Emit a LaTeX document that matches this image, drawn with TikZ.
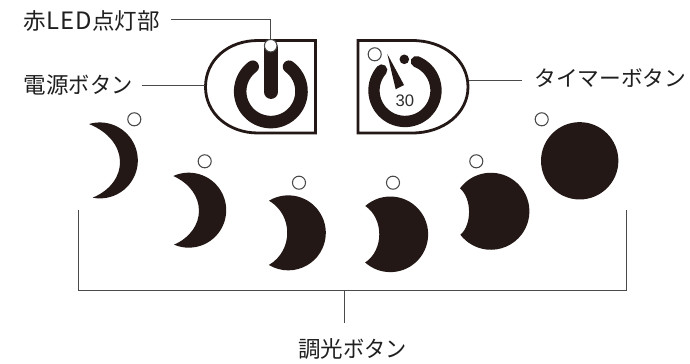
\documentclass[tikz,border=0pt]{standalone}
\usepackage{fontspec}
\setmainfont{Liberation Sans}
\newfontfamily\cjk{Noto Sans CJK JP}
\newfontfamily\kana{Noto Sans CJK JP}[FakeStretch=0.94]
\newfontfamily\latn{Noto Sans CJK JP}[Scale=1.06,LetterSpace=5]
\definecolor{ink}{HTML}{231815}
\definecolor{lead}{HTML}{4A4A4A}
\newcommand{\moonshape}[8]{%
  \pgfmathsetmacro{\aone}{atan2(#2-#5,#4-#1)}%
  \pgfmathsetmacro{\atwo}{atan2(#2-#7,#6-#1)}%
  \pgfmathsetmacro{\rr}{#3*0.75}%
  \pgfmathsetmacro{\cx}{(#4+#6)/2+4/3*(#8-(#4+#6)/2)}%
  \pgfmathsetmacro{\dd}{(#7-#5)/4.5}%
  \fill[ink] (#4,#5) arc[start angle=\aone,end angle=\atwo,radius=\rr pt]
     .. controls (\cx,#7-\dd) and (\cx,#5+\dd) .. cycle;}
\tikzset{
  leadline/.style={draw=lead,line width=0.75pt},
  lamp/.style={circle,draw=lead,line width=0.8pt,fill=white,minimum size=9.8pt,inner sep=0pt},
  frameline/.style={draw=ink,line width=2.1pt},
  label/.style={font=\cjk\fontsize{16.9pt}{18pt}\selectfont,text=black!88,inner sep=0pt},
}
\begin{document}
\begin{tikzpicture}[x=0.75pt,y=-0.75pt]
\useasboundingbox (0,0) rectangle (690,364);
% power button
\draw[frameline] (258,40.5) -- (315.5,40.5) -- (315.5,133) -- (258,133)
  .. controls (228,133) and (205.5,113) .. (205.5,87)
  .. controls (205.5,60) and (228,40.5) .. (258,40.5) -- cycle;
\draw[ink,line width=9.4pt,line cap=round] (252.7,66.7) arc[start angle=126.3,end angle=413.7,radius=23pt];
\draw[ink,line width=10.4pt,line cap=round] (271,48) -- (271,92);
\node[lamp,minimum size=9.4pt] (led) at (270.7,45.7) {};
% timer button
\draw[frameline] (412,40.5) -- (358,40.5) -- (358,133) -- (412,133)
  .. controls (444,133) and (468,113) .. (468,87)
  .. controls (468,60) and (444,40.5) .. (412,40.5) -- cycle;
\draw[ink,line width=8.5pt,line cap=round] (381.7,70) arc[start angle=138.7,end angle=428.5,radius=23.25pt];
\fill[ink] (404.3,59.3) circle[radius=3.6pt];
\fill[ink] (387.3,54) -- (404,85) -- (395.7,89.3) -- cycle;
\node[font=\fontsize{12.5pt}{14pt}\selectfont,text=black!82,inner sep=0pt] (thirty) at (405,101) {30};
\node[lamp] (timerlamp) at (374.7,54.3) {};
% dimmer moons
\moonshape{100}{161}{38}{89}{124}{92.7}{198.7}{120}
\moonshape{189}{210.8}{37.5}{173.3}{176}{174.3}{245.3}{199}
\moonshape{288.5}{233.2}{37.5}{269}{200.7}{269.3}{265}{287.3}
\moonshape{390.5}{234.5}{37.8}{365.3}{206}{365.3}{262.7}{379.3}
\moonshape{490.8}{211.2}{38.5}{460}{188.3}{460}{235}{469}
\fill[ink] (579.7,160.8) circle[radius=29pt];
\node[lamp] (lampa) at (134.3,119.3) {};
\node[lamp] (lampb) at (204.7,161.3) {};
\node[lamp] (lampc) at (299,182.7) {};
\node[lamp] (lampd) at (393,182.7) {};
\node[lamp] (lampe) at (476.3,161.3) {};
\node[lamp] (lampf) at (541.7,119.3) {};
% labels
\node[label,anchor=west] (ledlabel) at (23.5,21) {赤{\latn LED}点灯部};
\node[label,anchor=west] (powerlabel) at (23.5,85) {電源{\kana ボタン}};
\node[label,font=\cjk\fontsize{16.3pt}{18pt}\selectfont,anchor=west] (timerlabel) at (534,78.5) {タイマーボタン};
\node[label] (dimlabel) at (352.5,349) {調光{\kana ボタン}};
% connectors
\coordinate (ledstart) at (170.7,19);
\coordinate (powerstart) at (141.7,85);
\coordinate (powerend) at (204.5,85);
\coordinate (timerstart) at (469,80.7);
\coordinate (timerend) at (522.3,80.7);
\coordinate (bl) at (78.5,209.5);
\coordinate (blc) at (78.5,290);
\coordinate (br) at (626.7,209.5);
\coordinate (brc) at (626.7,290);
\coordinate (stemtop) at (344.3,290);
\coordinate (stemend) at (344.3,323.3);
\draw[leadline] (ledstart) -| (led.north);
\draw[leadline] (powerstart) -- (powerend);
\draw[leadline] (timerstart) -- (timerend);
\draw[leadline] (bl) -- (blc) -- (brc) -- (br);
\draw[leadline] (stemtop) -- (stemend);
\end{tikzpicture}
\end{document}
